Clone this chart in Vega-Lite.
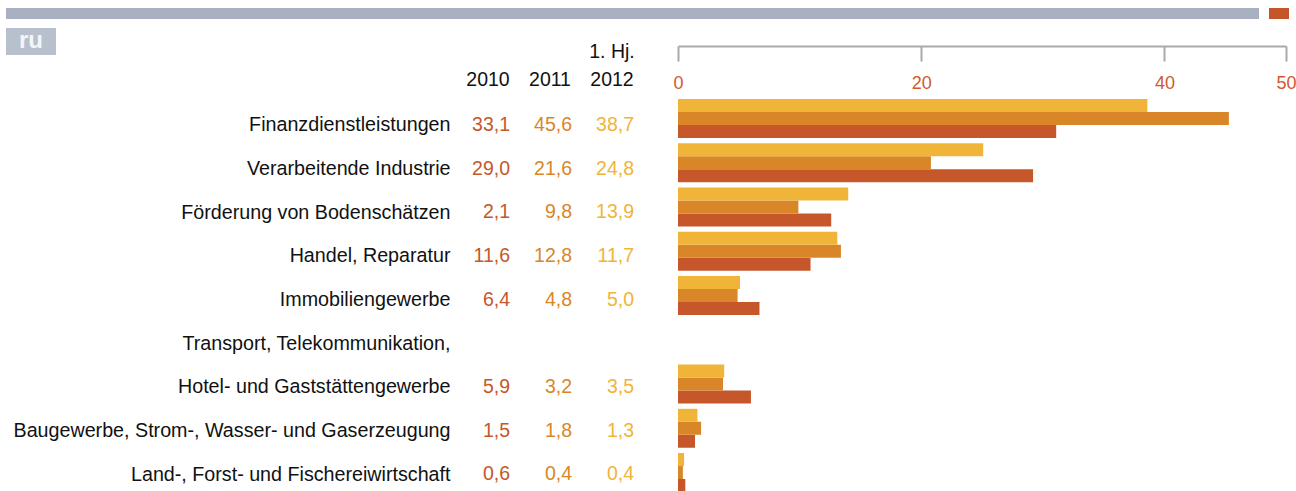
{
  "$schema": "https://vega.github.io/schema/vega-lite/v6.json",
  "padding": {"left": 6, "top": 8, "right": 0, "bottom": 0},
  "background": "white",
  "config": {
    "view": {"stroke": null},
    "font": "Liberation Sans, Arial, sans-serif"
  },
  "datasets": {
    "shares": [
      {"category": "Finanzdienstleistungen", "year": "2010", "label": "33,1", "bar": 31.1},
      {"category": "Finanzdienstleistungen", "year": "2011", "label": "45,6", "bar": 45.3},
      {"category": "Finanzdienstleistungen", "year": "2012", "label": "38,7", "bar": 38.6},
      {"category": "Verarbeitende Industrie", "year": "2010", "label": "29,0", "bar": 29.2},
      {"category": "Verarbeitende Industrie", "year": "2011", "label": "21,6", "bar": 20.8},
      {"category": "Verarbeitende Industrie", "year": "2012", "label": "24,8", "bar": 25.1},
      {"category": "Förderung von Bodenschätzen", "year": "2010", "label": "2,1", "bar": 12.6},
      {"category": "Förderung von Bodenschätzen", "year": "2011", "label": "9,8", "bar": 9.9},
      {"category": "Förderung von Bodenschätzen", "year": "2012", "label": "13,9", "bar": 14.0},
      {"category": "Handel, Reparatur", "year": "2010", "label": "11,6", "bar": 10.9},
      {"category": "Handel, Reparatur", "year": "2011", "label": "12,8", "bar": 13.4},
      {"category": "Handel, Reparatur", "year": "2012", "label": "11,7", "bar": 13.1},
      {"category": "Immobiliengewerbe", "year": "2010", "label": "6,4", "bar": 6.7},
      {"category": "Immobiliengewerbe", "year": "2011", "label": "4,8", "bar": 4.9},
      {"category": "Immobiliengewerbe", "year": "2012", "label": "5,0", "bar": 5.1},
      {"category": "Transport, Telekommunikation, Hotel- und Gaststättengewerbe", "year": "2010", "label": "5,9", "bar": 6.0},
      {"category": "Transport, Telekommunikation, Hotel- und Gaststättengewerbe", "year": "2011", "label": "3,2", "bar": 3.7},
      {"category": "Transport, Telekommunikation, Hotel- und Gaststättengewerbe", "year": "2012", "label": "3,5", "bar": 3.8},
      {"category": "Baugewerbe, Strom-, Wasser- und Gaserzeugung", "year": "2010", "label": "1,5", "bar": 1.4},
      {"category": "Baugewerbe, Strom-, Wasser- und Gaserzeugung", "year": "2011", "label": "1,8", "bar": 1.9},
      {"category": "Baugewerbe, Strom-, Wasser- und Gaserzeugung", "year": "2012", "label": "1,3", "bar": 1.6},
      {"category": "Land-, Forst- und Fischereiwirtschaft", "year": "2010", "label": "0,6", "bar": 0.6},
      {"category": "Land-, Forst- und Fischereiwirtschaft", "year": "2011", "label": "0,4", "bar": 0.4},
      {"category": "Land-, Forst- und Fischereiwirtschaft", "year": "2012", "label": "0,4", "bar": 0.5}
    ],
    "decor": [{"tag": "ru"}]
  },
  "vconcat": [
    {
      "hconcat": [
        {"width": 1253, "height": 11, "data": {"name": "decor"}, "mark": {"type": "rect", "color": "#a8b0c2"}, "encoding": {}},
        {"width": 20, "height": 11, "data": {"name": "decor"}, "mark": {"type": "rect", "color": "#c4572a"}, "encoding": {}}
      ],
      "spacing": 10
    },
    {
      "vconcat": [
        {
          "width": 50, "height": 27, "data": {"name": "decor"},
          "layer": [
            {"mark": {"type": "rect", "color": "#b8c0ce"}, "encoding": {}},
            {"mark": {"type": "text", "color": "#f4f5f8", "fontWeight": "bold", "fontSize": 24, "baseline": "middle", "dy": -1}, "encoding": {"text": {"field": "tag"}}}
          ]
        },
        {
          "hconcat": [
            {
              "width": 420, "height": 393,
              "data": {"name": "shares"},
              "mark": {"type": "text", "text": ""},
              "encoding": {
                "y": {
                  "field": "category", "type": "nominal",
                  "scale": {"domain": ["Finanzdienstleistungen", "Verarbeitende Industrie", "Förderung von Bodenschätzen", "Handel, Reparatur", "Immobiliengewerbe", "Transport, Telekommunikation,", "Transport, Telekommunikation, Hotel- und Gaststättengewerbe", "Baugewerbe, Strom-, Wasser- und Gaserzeugung", "Land-, Forst- und Fischereiwirtschaft"], "paddingInner": 0.12, "paddingOuter": 0},
                  "axis": {"orient": "right", "title": null, "domain": false, "ticks": false, "labelFontSize": 19.7, "labelColor": "#111111", "labelAlign": "right", "labelPadding": 24, "labelLimit": 1000, "labelOffset": 4,
                    "labelExpr": "datum.value == 'Transport, Telekommunikation, Hotel- und Gaststättengewerbe' ? 'Hotel- und Gaststättengewerbe' : datum.value"}
                }
              }
            },
            {
              "width": 186, "height": 393,
              "data": {"name": "shares"},
              "mark": {"type": "text", "align": "right", "baseline": "middle", "dx": 20, "dy": 4, "fontSize": 19.5},
              "encoding": {
                "y": {
                  "field": "category", "type": "nominal",
                  "scale": {"domain": ["Finanzdienstleistungen", "Verarbeitende Industrie", "Förderung von Bodenschätzen", "Handel, Reparatur", "Immobiliengewerbe", "Transport, Telekommunikation,", "Transport, Telekommunikation, Hotel- und Gaststättengewerbe", "Baugewerbe, Strom-, Wasser- und Gaserzeugung", "Land-, Forst- und Fischereiwirtschaft"], "paddingInner": 0.12, "paddingOuter": 0},
                  "axis": null
                },
                "x": {
                  "field": "year", "type": "nominal",
                  "scale": {"type": "band", "domain": ["2010", "2011", "2012"], "paddingInner": 0, "paddingOuter": 0},
                  "axis": {"orient": "top", "title": null, "domain": false, "ticks": false, "labelAngle": 0, "labelFontSize": 19.5, "labelColor": "#111111", "labelAlign": "center", "labelOffset": -2, "labelPadding": 42, "labelBaseline": "alphabetic", "labelLineHeight": 28,
                    "labelExpr": "datum.value == '2012' ? ['1. Hj.', '2012'] : ['', datum.value]"}
                },
                "text": {"field": "label"},
                "color": {"field": "year", "type": "nominal", "scale": {"domain": ["2010", "2011", "2012"], "range": ["#c5572b", "#d98628", "#f0b439"]}, "legend": null}
              }
            },
            {
              "width": 608, "height": 393,
              "data": {"name": "shares"},
              "mark": {"type": "bar"},
              "encoding": {
                "y": {
                  "field": "category", "type": "nominal",
                  "scale": {"domain": ["Finanzdienstleistungen", "Verarbeitende Industrie", "Förderung von Bodenschätzen", "Handel, Reparatur", "Immobiliengewerbe", "Transport, Telekommunikation,", "Transport, Telekommunikation, Hotel- und Gaststättengewerbe", "Baugewerbe, Strom-, Wasser- und Gaserzeugung", "Land-, Forst- und Fischereiwirtschaft"], "paddingInner": 0.12, "paddingOuter": 0},
                  "axis": null
                },
                "yOffset": {"field": "year", "type": "nominal", "scale": {"domain": ["2012", "2011", "2010"], "paddingInner": 0, "paddingOuter": 0}},
                "x": {
                  "field": "bar", "type": "quantitative",
                  "scale": {"domain": [0, 50], "nice": false},
                  "axis": {"orient": "top", "title": null, "grid": false, "values": [0, 20, 40, 50], "offset": 53, "domainColor": "#a9a9a9", "domainWidth": 2, "tickColor": "#a9a9a9", "tickWidth": 2, "tickSize": -15, "labelColor": "#cf5a2e", "labelFontSize": 18, "labelPadding": -27, "labelBaseline": "alphabetic", "labelFlush": false}
                },
                "color": {"field": "year", "type": "nominal", "scale": {"domain": ["2010", "2011", "2012"], "range": ["#c5572b", "#d98628", "#f0b439"]}, "legend": null}
              }
            }
          ],
          "bounds": "flush",
          "spacing": 33
        }
      ],
      "spacing": -14
    }
  ],
  "spacing": 9
}
